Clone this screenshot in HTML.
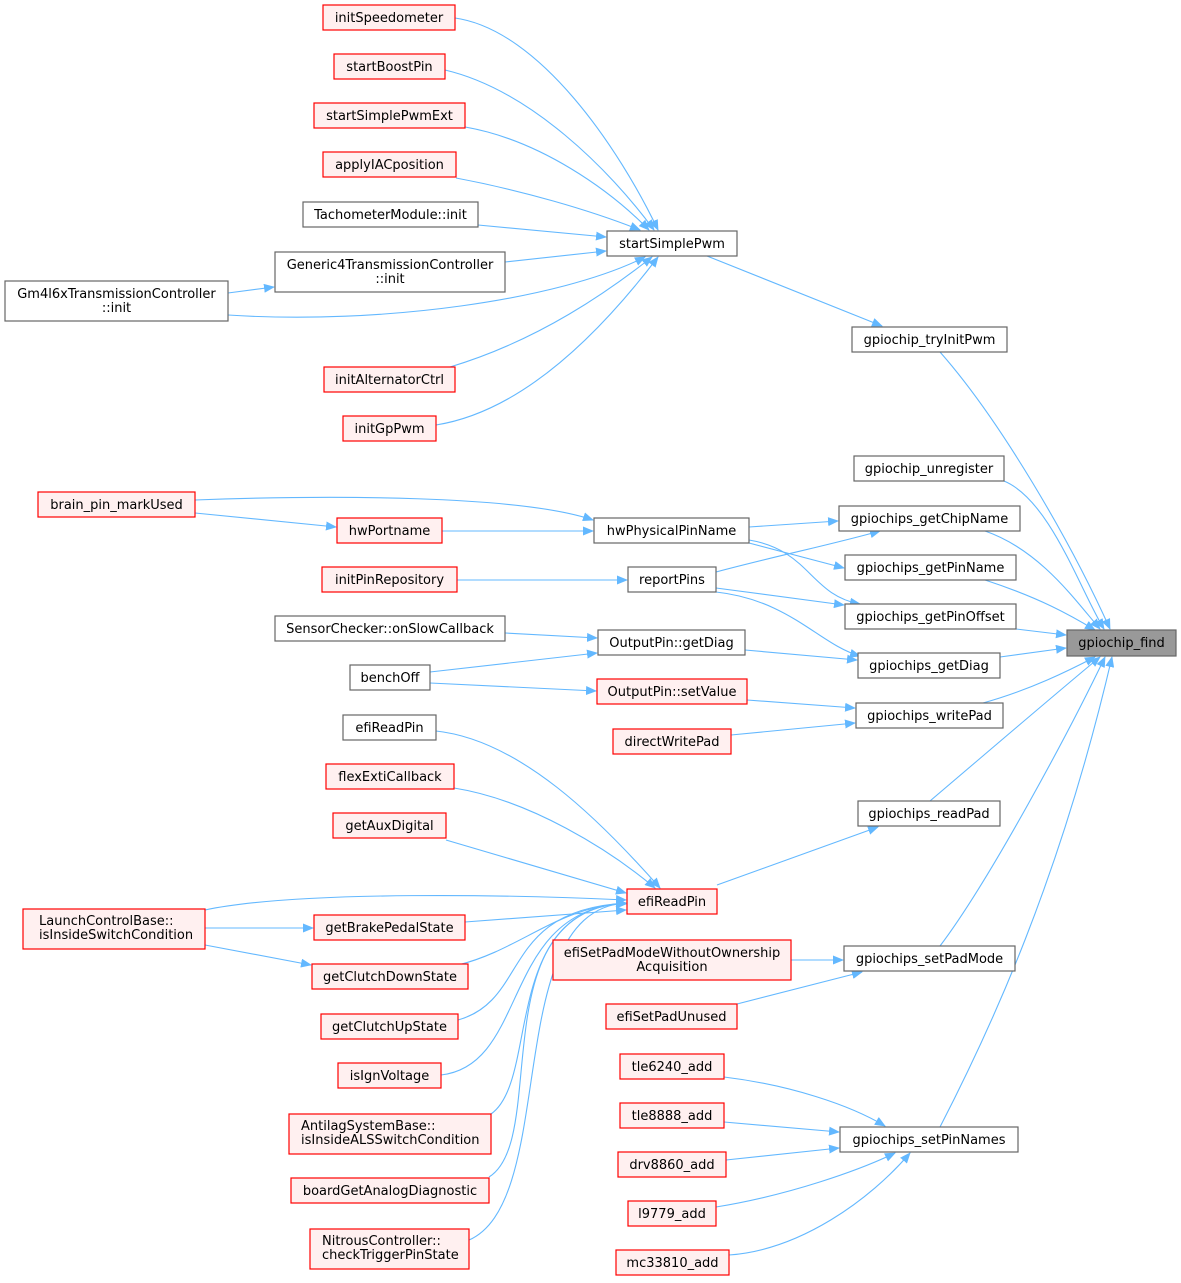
<!DOCTYPE html>
<html><head><meta charset="utf-8"><style>
html,body{margin:0;padding:0;background:#fff;}
svg{display:block;}
text{font-family:"DejaVu Sans","Liberation Sans",sans-serif;font-size:13px;fill:#000;}
.r{fill:#fff0f0;stroke:#ff0000;stroke-width:1.2;}
.b{fill:#fff;stroke:#666;stroke-width:1.2;}
.g{fill:#999;stroke:#666;stroke-width:1.2;}
path.e{fill:none;stroke:#63b8ff;stroke-width:1.1;marker-end:url(#a);}
</style></head><body>
<svg width="1181" height="1283" viewBox="0 0 1181 1283" xmlns="http://www.w3.org/2000/svg">
<defs><marker id="a" markerWidth="11" markerHeight="9" refX="10" refY="4.5" orient="auto" markerUnits="userSpaceOnUse"><path d="M0,0 L11,4.5 L0,9 z" fill="#63b8ff"/></marker></defs>

<path class="e" d="M940,352 C1000,420 1070,540 1110,629"/>
<path class="e" d="M1004,481 C1050,500 1080,590 1104,629"/>
<path class="e" d="M985,531 C1040,550 1075,600 1100,629"/>
<path class="e" d="M985,580 C1040,598 1070,615 1095,630"/>
<path class="e" d="M1016,629 L1066,635"/>
<path class="e" d="M1000,657 L1066,648"/>
<path class="e" d="M983,703 C1030,690 1070,670 1095,657"/>
<path class="e" d="M930,801 C990,750 1060,690 1100,657"/>
<path class="e" d="M940,946 C990,880 1070,730 1105,657"/>
<path class="e" d="M940,1127 C990,1030 1060,880 1112,657"/>

<path class="e" d="M707,256 L882,326"/>
<path class="e" d="M455,18 C540,30 620,150 658,230"/>
<path class="e" d="M445,70 C530,90 610,170 654,230"/>
<path class="e" d="M465,127 C540,140 610,190 649,230"/>
<path class="e" d="M456,178 C520,190 590,210 640,230"/>
<path class="e" d="M478,225 L606,237"/>
<path class="e" d="M505,262 L606,251"/>
<path class="e" d="M228,315 C380,325 560,300 645,257"/>
<path class="e" d="M228,293 L274,287"/>
<path class="e" d="M450,367 C540,340 610,290 652,257"/>
<path class="e" d="M436,425 C530,410 610,320 658,257"/>

<path class="e" d="M195,500 C330,495 520,495 593,520"/>
<path class="e" d="M195,513 L336,527"/>
<path class="e" d="M442,531 L593,531"/>
<path class="e" d="M457,580 L627,580"/>
<path class="e" d="M749,527 L838,521"/>
<path class="e" d="M716,572 C780,555 830,545 880,531"/>
<path class="e" d="M749,543 L844,568"/>
<path class="e" d="M749,540 C810,550 810,595 860,604"/>
<path class="e" d="M716,588 L844,605"/>
<path class="e" d="M716,592 C790,600 820,645 860,656"/>
<path class="e" d="M505,633 L597,638"/>
<path class="e" d="M430,672 L597,653"/>
<path class="e" d="M430,683 L596,691"/>
<path class="e" d="M745,650 L857,660"/>
<path class="e" d="M747,700 L855,708"/>
<path class="e" d="M731,735 L855,723"/>
<path class="e" d="M717,885 L878,827"/>
<path class="e" d="M791,960 L843,960"/>
<path class="e" d="M737,1004 L862,972"/>
<path class="e" d="M724,1077 C790,1085 850,1105 885,1126"/>
<path class="e" d="M724,1122 L839,1132"/>
<path class="e" d="M726,1160 L839,1148"/>
<path class="e" d="M716,1207 C790,1195 860,1170 895,1153"/>
<path class="e" d="M729,1255 C800,1250 870,1200 910,1153"/>

<path class="e" d="M436,731 C520,740 600,820 660,888"/>
<path class="e" d="M454,788 C530,800 610,850 655,888"/>
<path class="e" d="M446,840 L626,893"/>
<path class="e" d="M205,910 C300,890 520,895 626,900"/>
<path class="e" d="M205,928 L313,928"/>
<path class="e" d="M205,945 L311,965"/>
<path class="e" d="M465,922 L626,910"/>
<path class="e" d="M458,965 C520,950 560,905 626,904"/>
<path class="e" d="M458,1020 C530,1000 500,910 626,903"/>
<path class="e" d="M441,1075 C530,1065 500,910 626,903"/>
<path class="e" d="M491,1114 C540,1080 500,910 626,903"/>
<path class="e" d="M489,1177 C550,1140 480,910 626,903"/>
<path class="e" d="M469,1240 C560,1200 500,910 626,903"/>

<rect class="g" x="1067" y="630" width="109" height="26"/><text x="1121.5" y="647" text-anchor="middle">gpiochip_find</text>
<rect class="b" x="852" y="327" width="155" height="25"/><text x="929.5" y="344" text-anchor="middle">gpiochip_tryInitPwm</text>
<rect class="b" x="854" y="456" width="150" height="25"/><text x="929" y="473" text-anchor="middle">gpiochip_unregister</text>
<rect class="b" x="839" y="506" width="181" height="25"/><text x="929.5" y="523" text-anchor="middle">gpiochips_getChipName</text>
<rect class="b" x="845" y="555" width="171" height="25"/><text x="930.5" y="572" text-anchor="middle">gpiochips_getPinName</text>
<rect class="b" x="845" y="604" width="171" height="25"/><text x="930.5" y="621" text-anchor="middle">gpiochips_getPinOffset</text>
<rect class="b" x="858" y="653" width="142" height="25"/><text x="929" y="670" text-anchor="middle">gpiochips_getDiag</text>
<rect class="b" x="856" y="703" width="147" height="25"/><text x="929.5" y="720" text-anchor="middle">gpiochips_writePad</text>
<rect class="b" x="858" y="801" width="142" height="25"/><text x="929" y="818" text-anchor="middle">gpiochips_readPad</text>
<rect class="b" x="844" y="946" width="171" height="25"/><text x="929.5" y="963" text-anchor="middle">gpiochips_setPadMode</text>
<rect class="b" x="840" y="1127" width="178" height="25"/><text x="929" y="1144" text-anchor="middle">gpiochips_setPinNames</text>

<rect class="b" x="607" y="231" width="130" height="25"/><text x="672" y="248" text-anchor="middle">startSimplePwm</text>
<rect class="b" x="594" y="518" width="155" height="25"/><text x="671.5" y="535" text-anchor="middle">hwPhysicalPinName</text>
<rect class="b" x="628" y="567" width="88" height="25"/><text x="672" y="584" text-anchor="middle">reportPins</text>
<rect class="b" x="598" y="630" width="147" height="25"/><text x="671.5" y="647" text-anchor="middle">OutputPin::getDiag</text>
<rect class="r" x="597" y="679" width="150" height="25"/><text x="672" y="696" text-anchor="middle">OutputPin::setValue</text>
<rect class="r" x="613" y="729" width="118" height="25"/><text x="672" y="746" text-anchor="middle">directWritePad</text>
<rect class="r" x="627" y="889" width="90" height="25"/><text x="672" y="906" text-anchor="middle">efiReadPin</text>
<rect class="r" x="553" y="940" width="238" height="40"/><text x="672" y="957" text-anchor="middle">efiSetPadModeWithoutOwnership</text><text x="672" y="971" text-anchor="middle">Acquisition</text>
<rect class="r" x="606" y="1004" width="131" height="25"/><text x="671.5" y="1021" text-anchor="middle">efiSetPadUnused</text>
<rect class="r" x="620" y="1054" width="104" height="25"/><text x="672" y="1071" text-anchor="middle">tle6240_add</text>
<rect class="r" x="620" y="1103" width="104" height="25"/><text x="672" y="1120" text-anchor="middle">tle8888_add</text>
<rect class="r" x="618" y="1152" width="108" height="25"/><text x="672" y="1169" text-anchor="middle">drv8860_add</text>
<rect class="r" x="628" y="1201" width="88" height="25"/><text x="672" y="1218" text-anchor="middle">l9779_add</text>
<rect class="r" x="616" y="1250" width="113" height="25"/><text x="672.5" y="1267" text-anchor="middle">mc33810_add</text>

<rect class="r" x="323" y="5" width="132" height="25"/><text x="389" y="22" text-anchor="middle">initSpeedometer</text>
<rect class="r" x="334" y="54" width="111" height="25"/><text x="389.5" y="71" text-anchor="middle">startBoostPin</text>
<rect class="r" x="314" y="103" width="151" height="25"/><text x="389.5" y="120" text-anchor="middle">startSimplePwmExt</text>
<rect class="r" x="323" y="152" width="133" height="25"/><text x="389.5" y="169" text-anchor="middle">applyIACposition</text>
<rect class="b" x="303" y="202" width="175" height="25"/><text x="390.5" y="219" text-anchor="middle">TachometerModule::init</text>
<rect class="b" x="275" y="252" width="230" height="40"/><text x="390" y="269" text-anchor="middle">Generic4TransmissionController</text><text x="390" y="283" text-anchor="middle">::init</text>
<rect class="b" x="5" y="281" width="223" height="40"/><text x="116.5" y="298" text-anchor="middle">Gm4l6xTransmissionController</text><text x="116.5" y="312" text-anchor="middle">::init</text>
<rect class="r" x="324" y="367" width="131" height="25"/><text x="389.5" y="384" text-anchor="middle">initAlternatorCtrl</text>
<rect class="r" x="343" y="416" width="93" height="25"/><text x="389.5" y="433" text-anchor="middle">initGpPwm</text>
<rect class="r" x="38" y="492" width="157" height="25"/><text x="116.5" y="509" text-anchor="middle">brain_pin_markUsed</text>
<rect class="r" x="337" y="518" width="105" height="25"/><text x="389.5" y="535" text-anchor="middle">hwPortname</text>
<rect class="r" x="322" y="567" width="135" height="25"/><text x="389.5" y="584" text-anchor="middle">initPinRepository</text>
<rect class="b" x="275" y="616" width="230" height="25"/><text x="390" y="633" text-anchor="middle">SensorChecker::onSlowCallback</text>
<rect class="b" x="350" y="665" width="80" height="25"/><text x="390" y="682" text-anchor="middle">benchOff</text>
<rect class="b" x="343" y="715" width="93" height="25"/><text x="389.5" y="732" text-anchor="middle">efiReadPin</text>
<rect class="r" x="326" y="764" width="128" height="25"/><text x="390" y="781" text-anchor="middle">flexExtiCallback</text>
<rect class="r" x="333" y="813" width="113" height="25"/><text x="389.5" y="830" text-anchor="middle">getAuxDigital</text>
<rect class="r" x="23" y="909" width="182" height="40"/><text x="39" y="925">LaunchControlBase::</text><text x="39" y="939">isInsideSwitchCondition</text>
<rect class="r" x="314" y="915" width="151" height="25"/><text x="389.5" y="932" text-anchor="middle">getBrakePedalState</text>
<rect class="r" x="312" y="964" width="156" height="25"/><text x="390" y="981" text-anchor="middle">getClutchDownState</text>
<rect class="r" x="321" y="1014" width="137" height="25"/><text x="389.5" y="1031" text-anchor="middle">getClutchUpState</text>
<rect class="r" x="338" y="1063" width="103" height="25"/><text x="389.5" y="1080" text-anchor="middle">isIgnVoltage</text>
<rect class="r" x="289" y="1114" width="202" height="40"/><text x="301" y="1130">AntilagSystemBase::</text><text x="301" y="1144">isInsideALSSwitchCondition</text>
<rect class="r" x="291" y="1178" width="198" height="25"/><text x="390" y="1195" text-anchor="middle">boardGetAnalogDiagnostic</text>
<rect class="r" x="310" y="1229" width="159" height="40"/><text x="322" y="1245">NitrousController::</text><text x="322" y="1259">checkTriggerPinState</text>
</svg>
</body></html>
